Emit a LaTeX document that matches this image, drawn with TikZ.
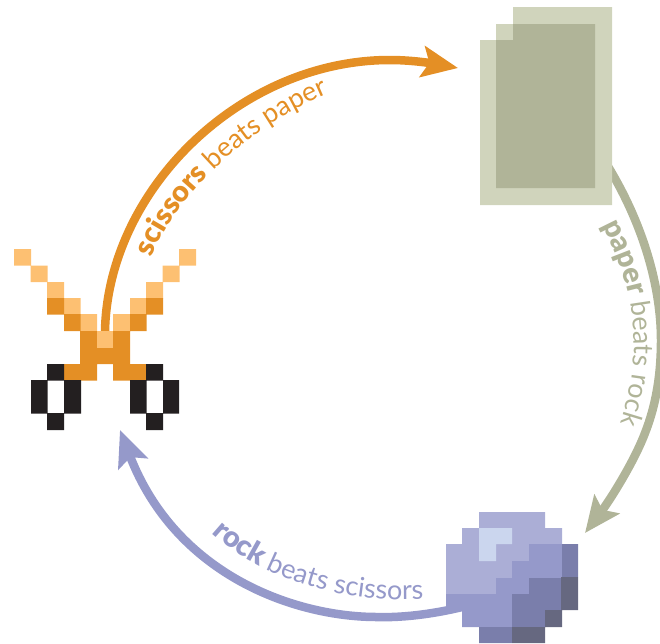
\documentclass[tikz,border=0pt]{standalone}
\usepackage{fontspec}
\usetikzlibrary{arrows.meta,decorations.text}
\newfontfamily\lightf{Lato}
\newfontfamily\boldf{Lato Black}
\newcommand\labL{\fontsize{27}{30}\selectfont\lightf}
\newcommand\labB{\fontsize{29}{30}\selectfont\boldf}
\definecolor{scOrange}{HTML}{E48F25}
\definecolor{scLight}{HTML}{FDC072}
\definecolor{scBlack}{HTML}{231F20}
\definecolor{paLight}{HTML}{D0D4BC}
\definecolor{paDark}{HTML}{B0B498}
\definecolor{roBase}{HTML}{ABAED6}
\definecolor{roMid}{HTML}{9599CA}
\definecolor{roDark}{HTML}{7A7EAB}
\definecolor{roDeep}{HTML}{666880}
\definecolor{roHigh}{HTML}{CBD6EE}
\tikzset{
  arc line/.style={line width=8.5pt,-{Stealth[length=36pt,width=31pt,inset=7pt]}},
  arc text/.style={decorate,decoration={text along path,text color=#1,text align=left}},
}
\begin{document}
\begin{tikzpicture}[x=1pt,y=-1pt]
\useasboundingbox (0,0) rectangle (660,643);
% anchor points of the connectors
\coordinate (scissors) at (105,331);
\coordinate (paper) at (604,160);
\coordinate (rock) at (470,605);
\coordinate (scissorsIn) at (120,430);
\coordinate (paperIn) at (458,68);
\coordinate (rockIn) at (585,533);
% connectors
\draw[arc line,draw=scOrange]
  (scissors) .. controls (108,190) and (240,60) .. (390,60) .. controls (410,60) and (430,63) .. (paperIn);
\draw[arc line,draw=paDark]
  (paper) .. controls (645,225) and (661,290) .. (661,340) .. controls (661,375) and (656,405) .. (645,433) .. controls (634,462) and (610,500) .. (rockIn);
\draw[arc line,draw=roMid]
  (rock) .. controls (440,613) and (405,618) .. (377,617) .. controls (296,617) and (176,576) .. (scissorsIn);
% labels
\path[arc text=scOrange,decoration={text={|\labB|scissors |\labL|beats paper}}]
  (152,258) .. controls (170,205) and (240,130) .. (330,93) -- (370,78);
\path[arc text=paDark,decoration={text={|\labB|paper |\labL|beats rock}}]
  (602,226) .. controls (622,265) and (635,300) .. (634,350) .. controls (633,380) and (628,400) .. (620,425) -- (600,470);
\path[arc text=roMid,decoration={text={|\labB|rock |\labL|beats scissors}}]
  (212,533) .. controls (265,582) and (350,604) .. (427,599) -- (470,594);
% scissors
\fill[scLight] (14,249) rectangle (31,265.5) (30.5,265.5) rectangle (47.5,282) (47,282) rectangle (64,298.5)
  (64,298) rectangle (80.5,314.5) (80,314) rectangle (97,331)
  (179,249) rectangle (196,265.5) (162.5,265.5) rectangle (179.5,282) (146,282) rectangle (163,298.5)
  (130,298) rectangle (146.5,314.5) (113,314) rectangle (130,331);
\fill[scOrange] (47,298) rectangle (64,314.5) (64,314) rectangle (80.5,331)
  (146,298) rectangle (163,314.5) (130,314) rectangle (146.5,331)
  (80,331) -- (97,331) -- (97,347.5) -- (113,347.5) -- (113,331) -- (130,331) -- (130,364) -- (146,364) -- (146,380.5)
  -- (113,380.5) -- (113,364) -- (97,364) -- (97,380.5) -- (64,380.5) -- (64,364) -- (80,364) -- cycle;
\fill[scLight] (97,331) rectangle (113,347.5);
\fill[scBlack] (47,364) rectangle (64,380.5) (31,380) rectangle (47.5,413.5) (64,380) rectangle (81,413.5) (47,413) rectangle (64,430)
  (146,364) rectangle (163,380.5) (130,380) rectangle (146.5,413.5) (163,380) rectangle (179,413.5) (146,413) rectangle (163,430);
% paper
\fill[paLight] (480,40) -- (496,40) -- (496,24) -- (513,24) -- (513,7) -- (612,7) -- (612,205) -- (480,205) -- cycle;
\fill[paDark] (496,40) -- (513,40) -- (513,24) -- (595,24) -- (595,188) -- (496,188) -- cycle;
% rock
\fill[roBase] (479,512) -- (545,512) -- (545,528) -- (562,528) -- (562,544) -- (529,544) -- (529,561) -- (512,561) -- (512,578) -- (496,578) -- (496,594) -- (446,594) -- (446,544) -- (462,544) -- (462,528) -- (479,528) -- cycle;
\fill[roMid] (529,544) -- (562,544) -- (562,578) -- (529,578) -- (529,594) -- (512,594) -- (512,627) -- (462,627) -- (462,610) -- (446,610) -- (446,594) -- (496,594) -- (496,578) -- (512,578) -- (512,561) -- (529,561) -- cycle;
\fill[roDark] (562,544) -- (578,544) -- (578,577) -- (561,577) -- (561,610) -- (545,610) -- (545,627) -- (512,627) -- (512,643) -- (479,643) -- (479,627) -- (512,627) -- (512,594) -- (529,594) -- (529,578) -- (562,578) -- cycle;
\fill[roDeep] (561,577) -- (578,577) -- (578,610) -- (562,610) -- (562,627) -- (545,627) -- (545,610) -- (561,610) -- cycle
  (512,627) rectangle (545,643);
\fill[roHigh] (479,528) -- (512,528) -- (512,544) -- (496,544) -- (496,561) -- (479,561) -- cycle;
\end{tikzpicture}
\end{document}
